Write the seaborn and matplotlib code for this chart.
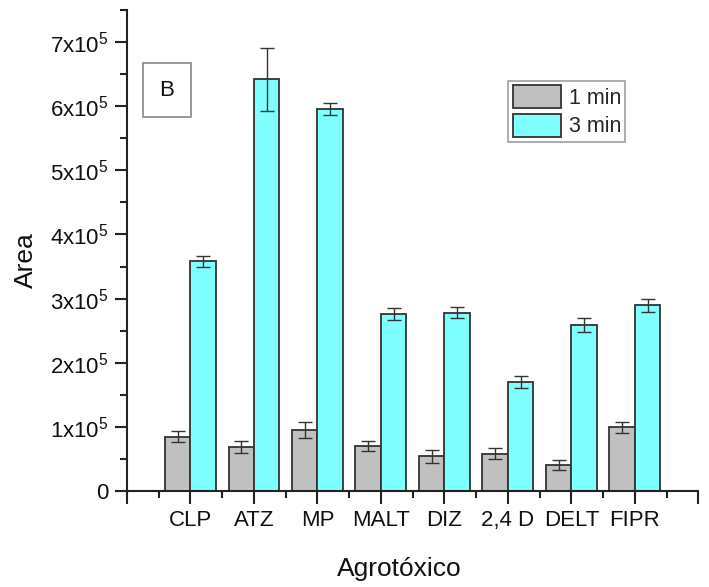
import numpy as np
import pandas as pd
import matplotlib
matplotlib.use("Agg")
import matplotlib.pyplot as plt
import seaborn as sns
from matplotlib.ticker import MultipleLocator, FixedLocator, FuncFormatter
from matplotlib.patches import Patch

categories = ["CLP", "ATZ", "MP", "MALT", "DIZ", "2,4 D", "DELT", "FIPR"]
series = ["1 min", "3 min"]
vals_1min = [85000, 69000, 95000, 70000, 54000, 58000, 41000, 99500]
err_1min = [9000, 9000, 13000, 7500, 10000, 8500, 7500, 8500]
vals_3min = [358000, 642000, 596000, 275500, 278000, 170000, 259000, 289500]
err_3min = [8000, 49000, 9500, 9500, 8500, 9500, 10500, 10000]

sns.set_theme(style="ticks")
plt.rcParams["font.family"] = ["Liberation Sans"]
plt.rcParams["mathtext.fontset"] = "custom"
plt.rcParams["mathtext.rm"] = "Liberation Sans"
plt.rcParams["mathtext.it"] = "Liberation Sans"

df = pd.DataFrame({
    "Agrotóxico": categories * 2,
    "Area": vals_1min + vals_3min,
    "err": err_1min + err_3min,
    "Tempo": [series[0]] * len(categories) + [series[1]] * len(categories),
})

colors = {"1 min": "#C0C0C0", "3 min": "#80FFFF"}
edge = "#333333"

fig = plt.figure(figsize=(7.09, 5.87), dpi=100)
ax = fig.add_axes([0.179, 0.1635, 0.806, 0.8195])

sns.barplot(data=df, x="Agrotóxico", y="Area", hue="Tempo", order=categories,
            hue_order=series, palette=colors, saturation=1, errorbar=None,
            width=0.8, edgecolor=edge, linewidth=1.3, ax=ax, legend=False)

# error bars at bar centers
for cont, s in zip(ax.containers, series):
    sub = df[df["Tempo"] == s].set_index("Agrotóxico").loc[categories]
    xs = [p.get_x() + p.get_width() / 2 for p in cont.patches]
    ax.errorbar(xs, sub["Area"].values, yerr=sub["err"].values, fmt="none",
                ecolor=edge, elinewidth=1.0, capsize=4.7, capthick=1.0, zorder=5)

ax.set_xlim(-1, 8)
ax.set_ylim(0, 7.5e5)
ax.xaxis.set_major_locator(FixedLocator(list(range(-1, 9))))
ax.set_xticklabels([""] + categories + [""])
ax.xaxis.set_minor_locator(FixedLocator([i + 0.5 for i in range(-1, 8)]))
ax.yaxis.set_major_locator(MultipleLocator(1e5))
ax.yaxis.set_minor_locator(MultipleLocator(0.5e5))

def yfmt(v, pos):
    n = int(round(v / 1e5))
    if n == 0:
        return "0"
    return r"$\mathregular{%dx10^5}$" % n

ax.yaxis.set_major_formatter(FuncFormatter(yfmt))

for sp in ["top", "right"]:
    ax.spines[sp].set_visible(False)
for sp in ["left", "bottom"]:
    ax.spines[sp].set_linewidth(1.5)
    ax.spines[sp].set_color("#222222")

ax.tick_params(axis="both", which="major", direction="out", length=9, width=1.5,
               labelsize=16, colors="#222222", labelcolor="#111111")
ax.tick_params(axis="both", which="minor", direction="out", length=5, width=1.5,
               colors="#222222")
ax.tick_params(axis="x", which="major", pad=5)
ax.tick_params(axis="y", which="major", pad=4)

ax.set_xlabel("Agrotóxico", fontsize=19, color="#111111")
ax.set_ylabel("Area", fontsize=19, color="#111111")
ax.xaxis.set_label_coords(0.477, -0.138)
ax.yaxis.set_label_coords(-0.155, 0.48)

handles = [Patch(facecolor=colors[s], edgecolor=edge, linewidth=1.3, label=s)
           for s in series]
leg = ax.legend(handles=handles, loc="upper right", bbox_to_anchor=(0.872, 0.852),
                frameon=True, fancybox=False, fontsize=15.5, handlelength=2.25,
                handleheight=1.25, handletextpad=0.35, labelspacing=0.22,
                borderpad=0.2, borderaxespad=0.0)
leg.get_frame().set_edgecolor("#888888")
leg.get_frame().set_linewidth(1.2)

ax.text(0.070, 0.833, "B", transform=ax.transAxes, fontsize=16, ha="center",
        va="center", color="#111111",
        bbox=dict(boxstyle="square,pad=0.75", facecolor="white",
                  edgecolor="#888888", linewidth=1.2))

fig.savefig("out.png", dpi=100)
